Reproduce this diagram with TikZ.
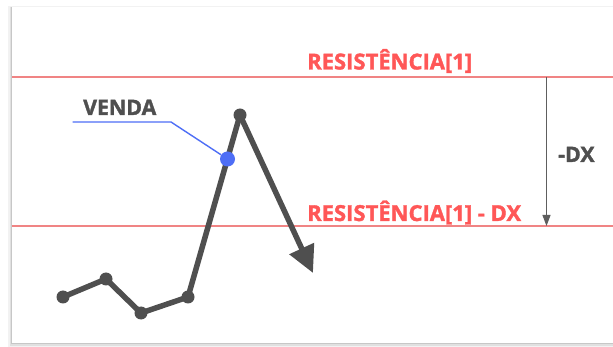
\documentclass[tikz,border=0pt]{standalone}
\usepackage{fontspec}
\setmainfont{Open Sans}
\newfontfamily\heavyfont[FakeBold=1.6]{Open Sans Bold}
\usepackage{xcolor}
\usepackage{tikz}
\usetikzlibrary{arrows.meta}
\definecolor{Coral}{HTML}{F08484}
\definecolor{LabelRed}{HTML}{FF5757}
\definecolor{Ink}{HTML}{4F4F4F}
\definecolor{MidGray}{HTML}{5E5E5E}
\definecolor{Marker}{HTML}{4E6EF6}
\tikzset{
  level/.style={draw=Coral,line width=1.4pt},
  levellabel/.style={text=LabelRed,font=\heavyfont\fontsize{22}{24}\selectfont,
              inner sep=0pt,anchor=base west},
  graylabel/.style={text=Ink,font=\heavyfont\fontsize{21.3}{23}\selectfont,
              inner sep=0pt,anchor=base west},
  price/.style={circle,fill=Ink,inner sep=0pt,minimum size=13pt},
  trend/.style={draw=Ink,line width=5.5pt,line join=round},
  pointer/.style={draw=Marker,line width=1.4pt},
  gap/.style={-{Triangle[length=11pt,width=8pt]},draw=MidGray,line width=1pt}
}
\begin{document}
\begin{tikzpicture}[x=1pt,y=-1pt]
  \useasboundingbox (0,0) rectangle (613,347);
  % card and its shadow
  \fill[black!5] (8,6) rectangle (613,347);
  \fill[black!12] (10,7) rectangle (613,345.5);
  \fill[black!22] (11.2,7.5) rectangle (613,344.3);
  \fill[white] (12,7) rectangle (613,343);
  % levels
  \coordinate (topL) at (12,77);
  \coordinate (topR) at (613,77);
  \coordinate (lowL) at (12,226);
  \coordinate (lowR) at (613,226);
  \draw[level] (topL) -- (topR);
  \draw[level] (lowL) -- (lowR);
  \node[levellabel] (res) at (307,69.5) {RESISTÊNCIA[1]};
  \node[levellabel] (resdx) at (307,221) {RESISTÊNCIA[1] - DX};
  % distance between levels
  \coordinate (gaptop) at (546.5,77);
  \coordinate (gapbot) at (546.5,226);
  \draw[gap] (gaptop) -- (gapbot);
  \node[graylabel] (dx) at (558,162) {-DX};
  % price path
  \node[price] (p1) at (63,297) {};
  \node[price] (p2) at (106,279) {};
  \node[price] (p3) at (141,313) {};
  \node[price] (p4) at (188,297) {};
  \node[price] (p5) at (240,115) {};
  \coordinate (tip) at (313,273);
  \draw[trend] (p1.center) -- (p2.center) -- (p3.center) -- (p4.center) -- (p5.center);
  \draw[trend,-{Triangle[length=27pt,width=26pt]}] (p5.center) -- (tip);
  % sell point
  \node[circle,fill=Marker,inner sep=0pt,minimum size=15pt] (sell) at (227.5,159) {};
  \coordinate (tailL) at (72.5,122);
  \coordinate (tailR) at (171,122);
  \draw[pointer] (tailL) -- (tailR) -- (sell);
  \node[graylabel] (venda) at (83,115) {VENDA};
\end{tikzpicture}
\end{document}
